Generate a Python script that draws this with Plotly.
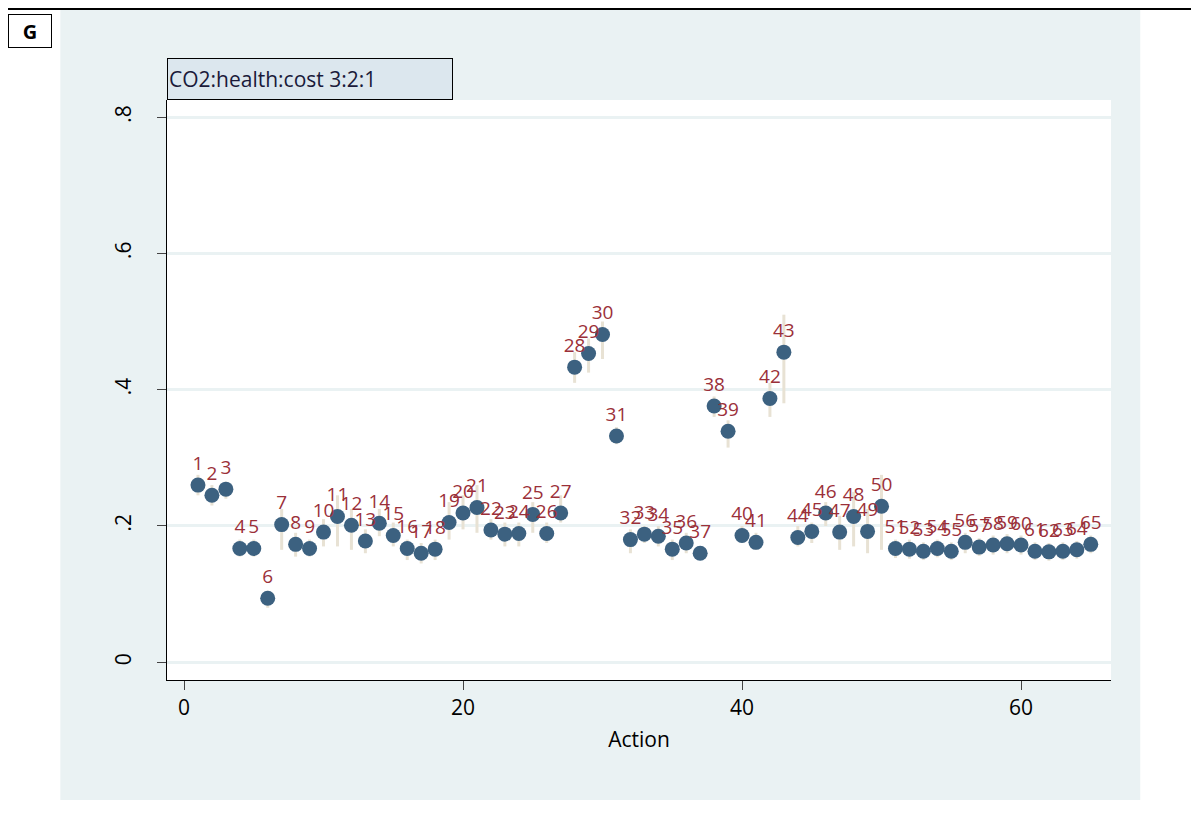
import plotly.graph_objects as go

actions = list(range(1, 66))
values = [0.260,0.245,0.254,0.167,0.167,0.094,0.202,0.173,0.167,0.191,
          0.214,0.201,0.178,0.204,0.186,0.167,0.160,0.166,0.205,0.219,
          0.227,0.194,0.188,0.189,0.217,0.189,0.219,0.433,0.453,0.481,
          0.332,0.180,0.188,0.185,0.166,0.175,0.160,0.376,0.339,0.186,
          0.176,0.387,0.455,0.183,0.192,0.219,0.191,0.214,0.192,0.229,
          0.167,0.166,0.163,0.167,0.163,0.176,0.169,0.172,0.174,0.172,
          0.163,0.162,0.163,0.165,0.173]
lower = [0.245,0.23,0.24,0.155,0.155,0.08,0.165,0.155,0.155,0.17,
         0.17,0.165,0.16,0.185,0.17,0.15,0.145,0.15,0.18,0.195,
         0.19,0.18,0.17,0.17,0.19,0.175,0.205,0.41,0.425,0.445,
         0.32,0.16,0.175,0.17,0.15,0.16,0.15,0.36,0.315,0.175,
         0.165,0.36,0.38,0.17,0.175,0.2,0.165,0.17,0.16,0.165,
         0.153,0.152,0.15,0.154,0.15,0.16,0.156,0.158,0.16,0.158,
         0.15,0.149,0.15,0.152,0.16]
upper = [0.275,0.26,0.265,0.18,0.18,0.105,0.225,0.19,0.18,0.21,
         0.245,0.225,0.195,0.225,0.205,0.18,0.175,0.18,0.235,0.245,
         0.26,0.21,0.205,0.205,0.235,0.205,0.245,0.455,0.475,0.5,
         0.345,0.195,0.2,0.2,0.18,0.19,0.17,0.39,0.355,0.2,
         0.19,0.41,0.51,0.2,0.205,0.235,0.215,0.25,0.225,0.275,
         0.18,0.18,0.176,0.18,0.176,0.19,0.182,0.186,0.188,0.186,
         0.176,0.175,0.176,0.178,0.186]
labels = [str(a) for a in actions]
title_text = "CO2:health:cost 3:2:1"

fig = go.Figure()
fig.add_trace(go.Scatter(
    x=actions, y=values, mode="markers+text", text=labels,
    textposition="top center",
    textfont=dict(color="#9B3039", size=19, family="Open Sans"),
    marker=dict(color="#3C6180", size=15),
    error_y=dict(type="data", symmetric=False,
                 array=[h - v for h, v in zip(upper, values)],
                 arrayminus=[v - l for v, l in zip(values, lower)],
                 color="#E8E2D4", thickness=3, width=0),
    showlegend=False, cliponaxis=False))

fig.add_shape(type="rect", xref="paper", yref="paper", x0=-0.113, x1=1.031,
              y0=-0.207, y1=1.159, fillcolor="#EAF2F3", line_width=0, layer="below")
fig.add_shape(type="rect", xref="paper", yref="paper", x0=0, x1=1,
              y0=0, y1=1, fillcolor="white", line_width=0, layer="below")
fig.add_shape(type="line", xref="paper", yref="paper", x0=-0.177, x1=1.093,
              y0=1.157, y1=1.157, line=dict(color="black", width=2))
fig.add_annotation(xref="paper", yref="paper", x=0, y=1.0, xanchor="left",
                   yanchor="bottom", text=title_text, showarrow=False,
                   font=dict(size=21, color="#1a1a3a", family="Open Sans"),
                   bgcolor="#DCE7EE", bordercolor="black", borderwidth=1,
                   width=282, height=38, align="left")
fig.add_annotation(xref="paper", yref="paper", x=-0.168, y=1.148, xanchor="left",
                   yanchor="top", text="<b>G</b>", showarrow=False,
                   font=dict(size=20, color="black", family="Open Sans"),
                   bordercolor="black", borderwidth=1, bgcolor="white",
                   width=40, height=30)

fig.update_layout(
    width=1199, height=832, paper_bgcolor="white", plot_bgcolor="rgba(0,0,0,0)",
    margin=dict(l=159, r=96, t=92, b=160),
    font=dict(family="Open Sans", color="black"),
    xaxis=dict(range=[-1.22, 66.45], tickvals=[0, 20, 40, 60], ticks="outside",
               ticklen=9, showgrid=False, zeroline=False, showline=True,
               linecolor="black", tickfont=dict(size=21),
               title=dict(text="Action", font=dict(size=21), standoff=12)),
    yaxis=dict(range=[-0.026, 0.825], tickvals=[0, 0.2, 0.4, 0.6, 0.8],
               ticktext=["0", ".2", ".4", ".6", ".8"], tickangle=-90,
               ticks="outside", ticklen=9, ticklabelstandoff=18,
               showgrid=True, gridcolor="#EAF2F3",
               gridwidth=2.5, zeroline=False, showline=True, linecolor="black",
               tickfont=dict(size=21)),
)
fig.write_html("out.html")
